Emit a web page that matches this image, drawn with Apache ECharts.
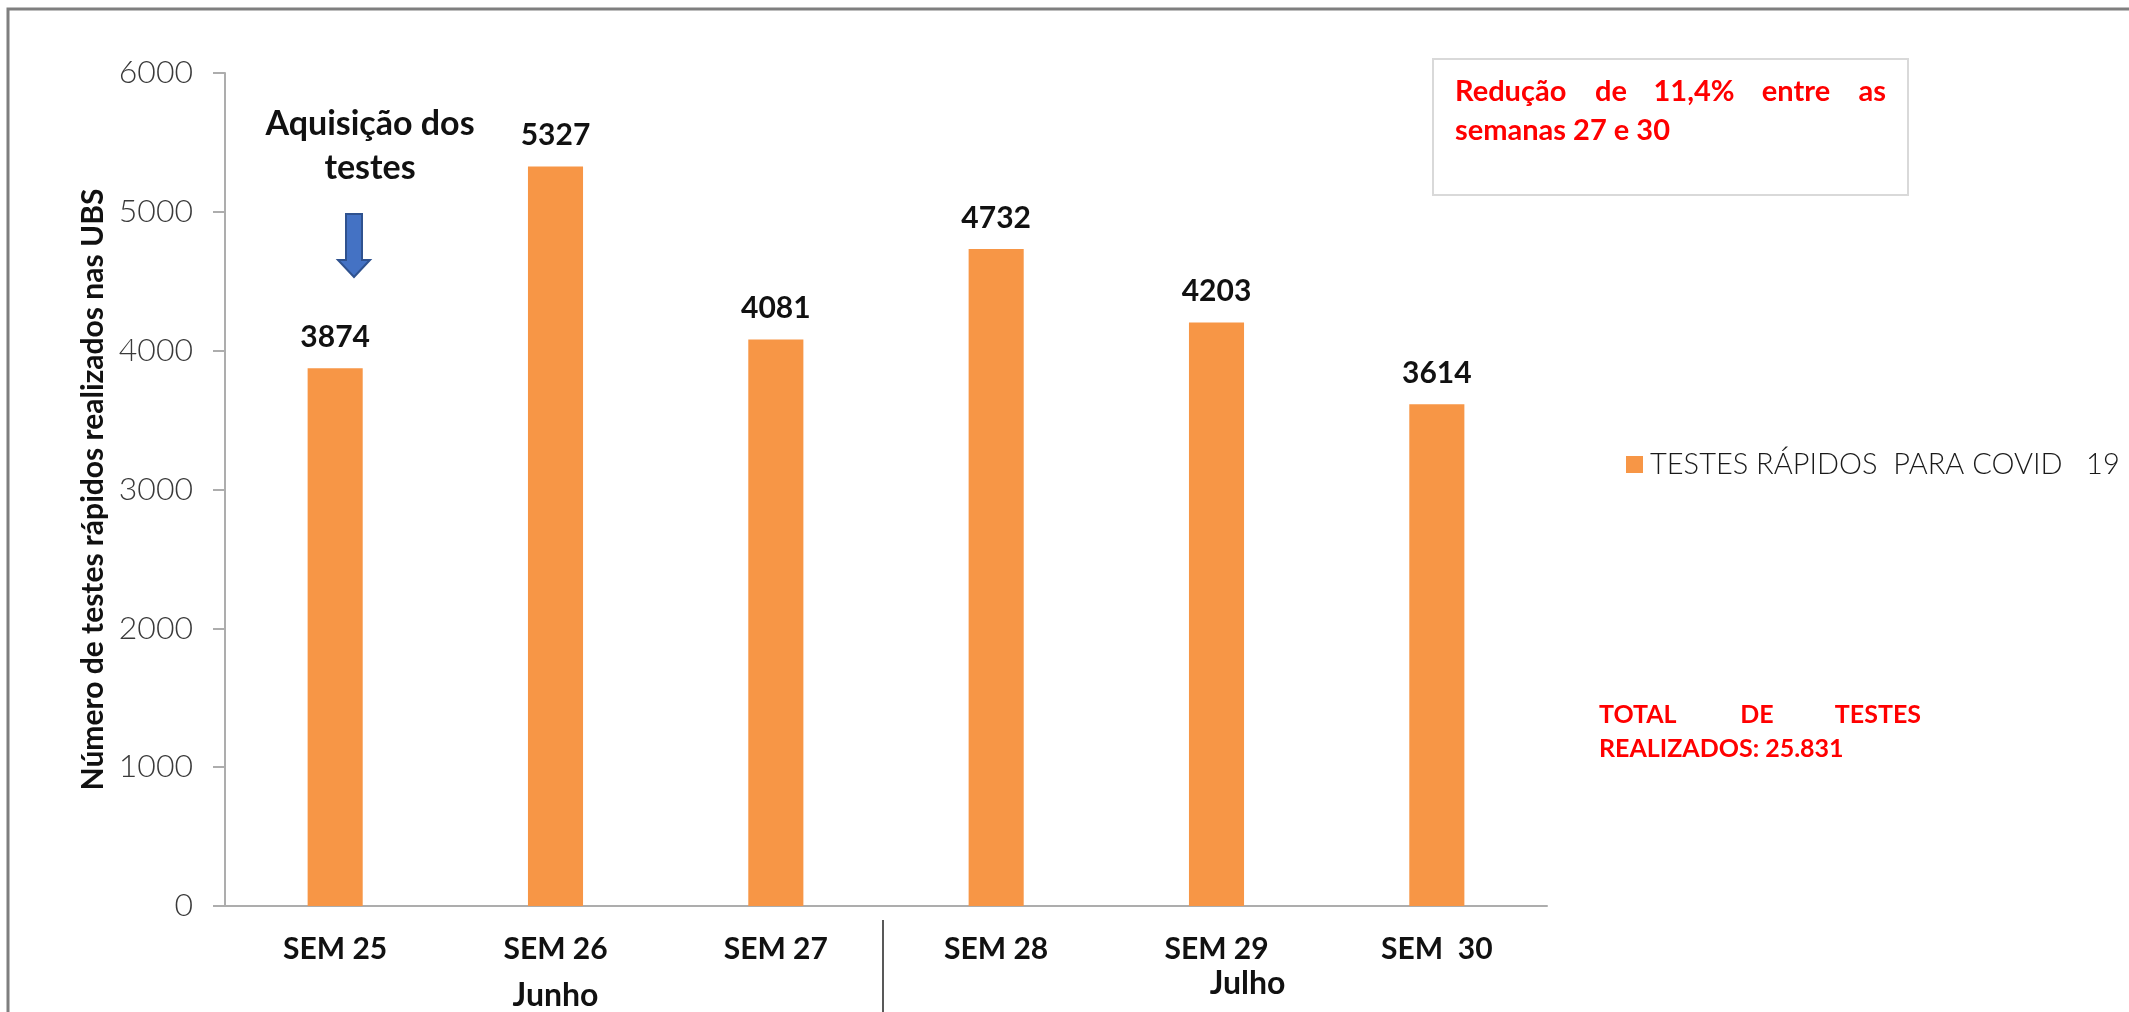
<!DOCTYPE html>
<html>
<head>
<meta charset="utf-8">
<script src="https://cdn.jsdelivr.net/npm/echarts@6/dist/echarts.min.js"></script>
<style>
  html, body { margin: 0; padding: 0; background: #ffffff; }
  #chart { width: 2129px; height: 1012px; }
</style>
</head>
<body>
<div id="chart"></div>
<script>
// Weekly rapid COVID-19 tests performed in the UBS (primary care units)
const weeks = ['SEM 25', 'SEM 26', 'SEM 27', 'SEM 28', 'SEM 29', 'SEM  30'];
const testsDone = [3874, 5327, 4081, 4732, 4203, 3614];
const monthLabels = ['', 'Junho', '', '', 'Julho', ''];
const monthBoundaryIndex = 3;
const seriesName = 'TESTES RÁPIDOS  PARA COVID   19';
const yTicks = { min: 0, max: 6000, interval: 1000 };

const FONT = 'Lato, "Noto Sans", "Liberation Sans", sans-serif';
const ORANGE = '#F79646';
const RED = '#FF0000';

const chart = echarts.init(document.getElementById('chart'), null, { renderer: 'canvas' });

const redWord = (text, x, y, align, size) => ({
  type: 'text',
  style: { text: text, x: x, y: y, align: align, verticalAlign: 'middle', font: 'bold ' + size + 'px ' + FONT, fill: RED }
});

chart.setOption({
  backgroundColor: '#ffffff',
  animation: false,
  textStyle: { fontFamily: FONT },
  grid: { left: 225, right: 582, top: 73, bottom: 99, containLabel: false },
  legend: {
    left: 1621,
    top: 445,
    itemWidth: 17,
    itemHeight: 17,
    itemGap: 0,
    icon: 'rect',
    textStyle: { fontFamily: FONT, fontSize: 29, fontWeight: 300, color: '#1a1a1a', padding: [0, 0, 0, 2] },
    data: [seriesName]
  },
  xAxis: [
    {
      type: 'category',
      data: weeks,
      axisLine: { show: true, lineStyle: { color: '#adadad', width: 2 } },
      axisTick: { show: false },
      axisLabel: { margin: 28, fontFamily: FONT, fontSize: 30, fontWeight: 'bold', color: '#111111' }
    },
    {
      type: 'category',
      data: monthLabels,
      position: 'bottom',
      offset: 14,
      axisLine: { show: false },
      axisTick: { show: false },
      axisLabel: {
        interval: 0,
        margin: 48,
        formatter: function (v) {
          if (v === 'Junho') return '{jun|' + v + '}';
          if (v === 'Julho') return '{jul|' + v + '}';
          return '';
        },
        rich: {
          jun: { fontFamily: FONT, fontSize: 32, fontWeight: 'bold', color: '#111111', padding: [12, 0, 0, 0] },
          jul: { fontFamily: FONT, fontSize: 32, fontWeight: 'bold', color: '#111111', padding: [0, 0, 0, 62] }
        }
      }
    }
  ],
  yAxis: {
    type: 'value',
    min: yTicks.min,
    max: yTicks.max,
    interval: yTicks.interval,
    name: 'Número de testes rápidos realizados nas UBS',
    nameLocation: 'middle',
    nameGap: 116,
    nameTextStyle: { fontFamily: FONT, fontSize: 30, fontWeight: 'bold', color: '#111111' },
    splitLine: { show: false },
    axisLine: { show: true, lineStyle: { color: '#adadad', width: 2 } },
    axisTick: { show: true, length: 12, lineStyle: { color: '#adadad', width: 2 } },
    axisLabel: {
      margin: 32, fontFamily: FONT, fontSize: 32, fontWeight: 300, color: '#3a3a3a',
      formatter: function (v) { return String(v); }
    }
  },
  series: [
    {
      name: seriesName,
      type: 'bar',
      data: testsDone,
      barWidth: '25%',
      itemStyle: { color: ORANGE },
      label: {
        show: true,
        position: 'top',
        distance: 16,
        fontFamily: FONT,
        fontSize: 30,
        fontWeight: 'bold',
        color: '#111111'
      }
    }
  ],
  graphic: [
    // outer frame of the figure
    { type: 'rect', silent: true, shape: { x: 8, y: 9, width: 2300, height: 1200 },
      style: { fill: 'none', stroke: '#7f7f7f', lineWidth: 3 } },
    // annotation: test acquisition
    { type: 'text', style: { text: 'Aquisição dos', x: 370, y: 124, align: 'center', verticalAlign: 'middle',
      font: 'bold 34px ' + FONT, fill: '#111111' } },
    { type: 'text', style: { text: 'testes', x: 370, y: 168, align: 'center', verticalAlign: 'middle',
      font: 'bold 34px ' + FONT, fill: '#111111' } },
    { type: 'polygon', shape: { points: [[346, 214], [362, 214], [362, 260], [370, 260], [354, 277], [338, 260], [346, 260]] },
      style: { fill: '#4472C4', stroke: '#2F528F', lineWidth: 2 } },
    // reduction note box
    { type: 'rect', shape: { x: 1433, y: 59, width: 475, height: 136 },
      style: { fill: '#ffffff', stroke: '#d9d9d9', lineWidth: 2 } },
    redWord('Redução', 1455, 92, 'left', 29),
    redWord('de', 1611, 92, 'center', 29),
    redWord('11,4%', 1694, 92, 'center', 29),
    redWord('entre', 1796, 92, 'center', 29),
    redWord('as', 1886, 92, 'right', 29),
    redWord('semanas 27 e 30', 1455, 131, 'left', 29),
    // total tests note
    redWord('TOTAL', 1599, 715, 'left', 25),
    redWord('DE', 1757, 715, 'center', 25),
    redWord('TESTES', 1921, 715, 'right', 25),
    redWord('REALIZADOS: 25.831', 1599, 749, 'left', 25)
  ]
});

// vertical divider between the June and July weeks, placed on the category boundary
const leftCenter = chart.convertToPixel({ xAxisIndex: 0 }, weeks[monthBoundaryIndex - 1]);
const rightCenter = chart.convertToPixel({ xAxisIndex: 0 }, weeks[monthBoundaryIndex]);
const baseY = chart.convertToPixel({ yAxisIndex: 0 }, 0);
const divX = Math.round((leftCenter + rightCenter) / 2) - 3;
chart.setOption({
  graphic: [
    { id: 'monthDivider', type: 'line', silent: true,
      shape: { x1: divX, y1: baseY + 14, x2: divX, y2: baseY + 140 },
      style: { stroke: '#595959', lineWidth: 2 } }
  ]
});
</script>
</body>
</html>
